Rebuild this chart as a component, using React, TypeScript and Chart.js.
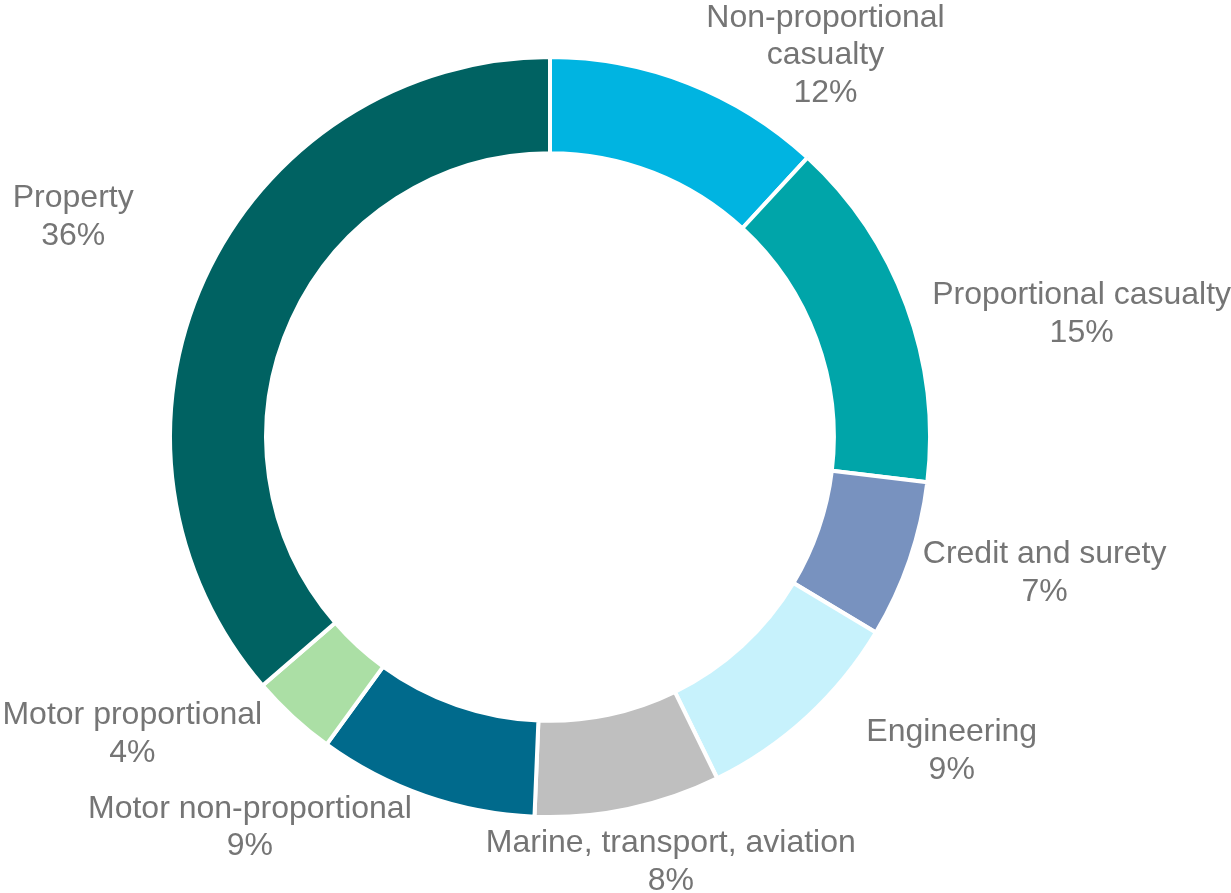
import React, { useEffect, useRef } from "react";
import { Chart, registerables } from "chart.js";

Chart.register(...registerables);

const categories = [
  "Non-proportional\ncasualty",
  "Proportional casualty",
  "Credit and surety",
  "Engineering",
  "Marine, transport, aviation",
  "Motor non-proportional",
  "Motor proportional",
  "Property",
];
const shares = [11.85, 15.05, 6.7, 9.15, 7.9, 9.35, 3.65, 36.35];
const shareLabels = ["12%", "15%", "7%", "9%", "8%", "9%", "4%", "36%"];
const colors = [
  "#00B4E1",
  "#00A5A9",
  "#7892BF",
  "#C7F2FC",
  "#BFBFBF",
  "#006A8C",
  "#ABDFA5",
  "#006262",
];
// label block offset from the arc's outer mid point (pixels)
const labelNudge: [number, number][] = [
  [138, -32],
  [177, 5],
  [137, 11],
  [146, 33],
  [43, 53],
  [-176, 31],
  [-162, 16],
  [-133, -65],
];

const FONT_SIZE = 32;
const LINE_H = 37.8;
const BORDER = 4;

const labelPlugin = {
  id: "outerLabels",
  afterDatasetsDraw(chart: any) {
    const ctx = chart.ctx;
    const meta = chart.getDatasetMeta(0);
    ctx.save();
    ctx.fillStyle = "#757575";
    ctx.font = `${FONT_SIZE}px "Liberation Sans", Arial, sans-serif`;
    ctx.textAlign = "center";
    ctx.textBaseline = "alphabetic";
    const capH = FONT_SIZE * 0.716;
    meta.data.forEach((arc: any, i: number) => {
      const p = arc.getProps(["x", "y", "startAngle", "endAngle", "outerRadius"], true);
      const mid = (p.startAngle + p.endAngle) / 2;
      const r = p.outerRadius - BORDER / 2;
      const ax = p.x + Math.cos(mid) * r;
      const ay = p.y + Math.sin(mid) * r;
      const cx = ax + labelNudge[i][0];
      const cy = ay + labelNudge[i][1];
      const lines = [...categories[i].split("\n"), shareLabels[i]];
      const n = lines.length;
      lines.forEach((t, k) => {
        const by = cy - ((n - 1) * LINE_H) / 2 + k * LINE_H + capH / 2;
        ctx.fillText(t, cx, by);
      });
    });
    ctx.restore();
  },
};

export default function App() {
  const ref = useRef<HTMLCanvasElement>(null);
  useEffect(() => {
    document.body.style.margin = "0";
    const chart = new Chart(ref.current!, {
      type: "doughnut",
      data: {
        labels: categories.map((c) => c.replace("\n", " ")),
        datasets: [
          {
            data: shares,
            backgroundColor: colors,
            borderColor: "#FFFFFF",
            borderWidth: BORDER,
            hoverOffset: 0,
          },
        ],
      },
      options: {
        responsive: false,
        animation: false,
        cutout: "74.7%",
        layout: { padding: { left: 168, top: 55, right: 299, bottom: 74 } },
        plugins: {
          legend: { display: false },
          tooltip: { enabled: false },
        },
      },
      plugins: [labelPlugin],
    });
    return () => chart.destroy();
  }, []);
  return (
    <div style={{ width: 1231, height: 893, background: "#fff" }}>
      <canvas ref={ref} width={1231} height={893} />
    </div>
  );
}
